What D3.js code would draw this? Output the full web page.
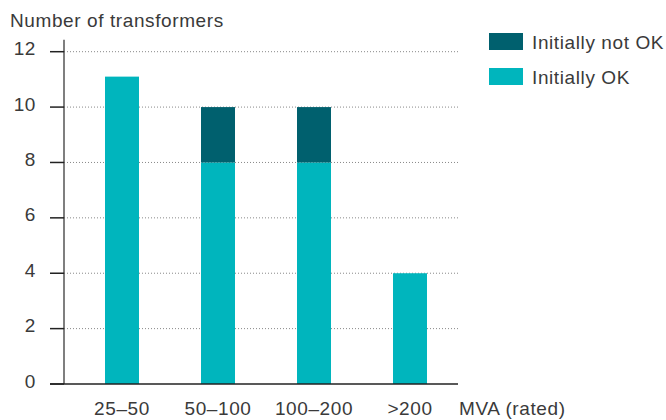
<!DOCTYPE html>
<html><head><meta charset="utf-8">
<script src="https://cdn.jsdelivr.net/npm/d3@7"></script>
<style>body{margin:0;background:#fff}svg{display:block}text{font-family:"Liberation Sans",Arial,sans-serif;fill:#3a3a3a;letter-spacing:0.6px}</style>
</head><body><svg id="c" width="666" height="420"></svg>
<script>
const categories = ["25–50","50–100","100–200",">200"];
const initiallyOK = [11.1, 8, 8, 4];
const initiallyNotOK = [0, 2, 2, 0];
const yTicks = [0,2,4,6,8,10,12];
const seriesNames = ["Initially not OK","Initially OK"];
const colors = {"Initially OK":"#00b5bd","Initially not OK":"#00606e"};

const svg = d3.select("#c");
const x = d3.scaleBand().domain(categories).range([74,458]).paddingInner(0.646).paddingOuter(0.323);
const y = d3.scaleLinear().domain([0,12]).range([384,51.7]);
const axisX = 64, right = 458, fs = 19;

// gridlines
svg.append("g").selectAll("line").data(yTicks.filter(d=>d>0)).join("line")
  .attr("x1",axisX).attr("x2",right).attr("y1",d=>y(d)).attr("y2",d=>y(d))
  .attr("stroke","#888").attr("stroke-width",1).attr("stroke-dasharray","1,2");

// bars
const data = categories.map((c,i)=>({c, ok:initiallyOK[i], nok:initiallyNotOK[i]}));
const stack = d3.stack().keys(["ok","nok"])(data);
svg.append("g").selectAll("g").data(stack).join("g")
  .attr("fill",s=>s.key==="ok"?colors["Initially OK"]:colors["Initially not OK"])
  .selectAll("rect").data(s=>s.filter(d=>d[1]>d[0])).join("rect")
  .attr("x",d=>x(d.data.c)).attr("width",x.bandwidth())
  .attr("y",d=>y(d[1])).attr("height",d=>y(d[0])-y(d[1]));

// y axis
svg.append("line").attr("x1",axisX).attr("x2",axisX).attr("y1",y(12)-12).attr("y2",y(0))
  .attr("stroke","#555").attr("stroke-width",1.5);
svg.append("g").selectAll("line").data(yTicks).join("line")
  .attr("x1",50).attr("x2",axisX).attr("y1",d=>y(d)).attr("y2",d=>y(d))
  .attr("stroke","#222").attr("stroke-width",1.5);
svg.append("line").attr("x1",50).attr("x2",right).attr("y1",y(0)).attr("y2",y(0))
  .attr("stroke","#222").attr("stroke-width",1.5);
svg.append("g").selectAll("text").data(yTicks).join("text")
  .attr("x",36).attr("y",d=>y(d)+3.5).attr("text-anchor","end")
  .attr("font-size",fs).text(d=>d);

// x labels
svg.append("g").selectAll("text").data(categories).join("text")
  .attr("x",d=>x(d)+x.bandwidth()/2).attr("y",415).attr("text-anchor","middle")
  .attr("font-size",fs).text(d=>d);
svg.append("text").attr("x",459).attr("y",415).attr("font-size",fs).text("MVA (rated)");

// title
svg.append("text").attr("x",10).attr("y",26.5).attr("font-size",fs).text("Number of transformers");

// legend
const lg = svg.append("g").selectAll("g").data(seriesNames).join("g")
  .attr("transform",(d,i)=>`translate(489,${33+i*35})`);
lg.append("rect").attr("width",34).attr("height",17).attr("fill",d=>colors[d]);
lg.append("text").attr("x",43).attr("y",15.5).attr("font-size",fs).text(d=>d);
</script></body></html>
